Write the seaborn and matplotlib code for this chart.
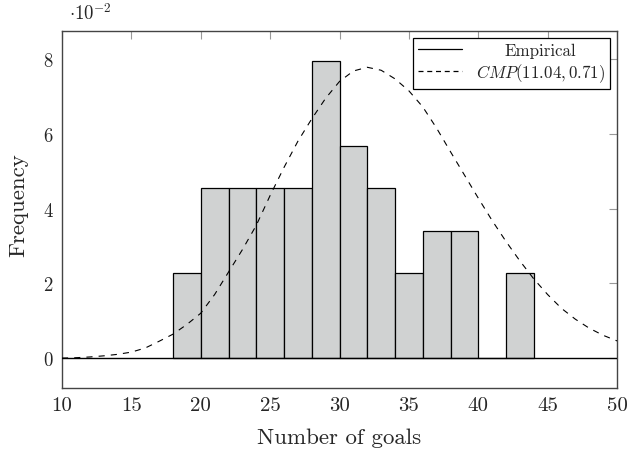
import matplotlib
matplotlib.use("Agg")
import matplotlib.pyplot as plt
import pandas as pd
import seaborn as sns
from matplotlib.lines import Line2D

# histogram of goals (frequency, in units of 1e-2), bins of width 2
bin_left = [18, 20, 22, 24, 26, 28, 30, 32, 34, 36, 38, 40, 42]
freq_e2 = [2.27, 4.55, 4.55, 4.55, 4.55, 7.95, 5.68, 4.55, 2.27, 3.41, 3.41, 0.0, 2.27]

# fitted CMP curve (units of 1e-2)
cmp_x = [10, 11, 12, 13, 14, 15, 16, 17, 18, 19, 20, 21, 22, 23, 24, 25, 26, 27, 28, 29,
         30, 31, 32, 33, 34, 35, 36, 37, 38, 39, 40, 41, 42, 43, 44, 45, 46, 47, 48, 49, 50]
cmp_y = [0.0, 0.01, 0.03, 0.06, 0.1, 0.16, 0.27, 0.45, 0.64, 0.9, 1.2, 1.7, 2.3, 2.9, 3.55,
         4.35, 5.1, 5.8, 6.4, 6.95, 7.4, 7.68, 7.78, 7.7, 7.47, 7.15, 6.72, 6.15, 5.52, 4.9,
         4.28, 3.68, 3.12, 2.6, 2.12, 1.7, 1.33, 1.04, 0.8, 0.61, 0.46]

sns.set_style("white")
plt.rcParams['font.family'] = ['cmr10', 'DejaVu Serif']
plt.rcParams['mathtext.fontset'] = 'cm'
plt.rcParams['axes.formatter.use_mathtext'] = True

hist_df = pd.DataFrame({'center': [b + 1 for b in bin_left], 'freq': freq_e2})

fig = plt.figure(figsize=(6.27, 4.52), dpi=100)
ax = fig.add_axes([62 / 627, 1 - 389 / 452, 555 / 627, 357 / 452])

# width=1 in native scale == full spacing between bin centres
sns.barplot(data=hist_df, x='center', y='freq', native_scale=True, width=1,
            color='#d0d2d2', saturation=1, edgecolor='black', linewidth=0.9, ax=ax)
ax.axhline(0, color='black', lw=1.0, zorder=3)
sns.lineplot(x=cmp_x, y=cmp_y, color='black', lw=0.8, ax=ax,
             linestyle=(0, (5.5, 5.5)), zorder=4)

ax.set_xlim(10, 50)
ax.set_ylim(-0.8, 8.75)
ax.set_xticks([10, 15, 20, 25, 30, 35, 40, 45, 50])
ax.set_xticklabels([10, 15, 20, 25, 30, 35, 40, 45, 50])
ax.set_yticks([0, 2, 4, 6, 8])
ax.tick_params(axis='both', direction='in', length=6, width=0.8, color='#999999',
               top=True, right=True)
ax.tick_params(axis='x', labelsize=15, pad=6)
ax.tick_params(axis='y', labelsize=13.5, pad=6)
for s in ax.spines.values():
    s.set_color('#444444')
    s.set_linewidth(1.0)

ax.set_xlabel('Number of goals', fontsize=16.5)
ax.xaxis.set_label_coords(0.5, -0.112)
ax.set_ylabel('Frequency', fontsize=16.5)
ax.yaxis.set_label_coords(-0.061, 0.515)
ax.text(0.013, 1.034, r'$\cdot 10^{-2}$', transform=ax.transAxes, fontsize=13.5,
        ha='left', va='baseline')

handles = [Line2D([], [], color='black', lw=0.9),
           Line2D([], [], color='black', lw=0.9, linestyle=(0, (4, 3)))]
leg = ax.legend(handles, ['Empirical', r'$CMP(11.04, 0.71)$'], loc='upper right',
                fontsize=12.2, frameon=True, fancybox=False, edgecolor='black',
                framealpha=1, handlelength=2.6, borderaxespad=0.4, labelspacing=0.2,
                borderpad=0.3)
leg.get_frame().set_linewidth(0.9)

# centre the shorter legend label within the text column
fig.canvas.draw()
r = fig.canvas.get_renderer()
w0 = leg.texts[0].get_window_extent(r).width
w1 = leg.texts[1].get_window_extent(r).width
leg.texts[0].set_x((w1 - w0) / 2)

fig.savefig('out.png', dpi=100)
